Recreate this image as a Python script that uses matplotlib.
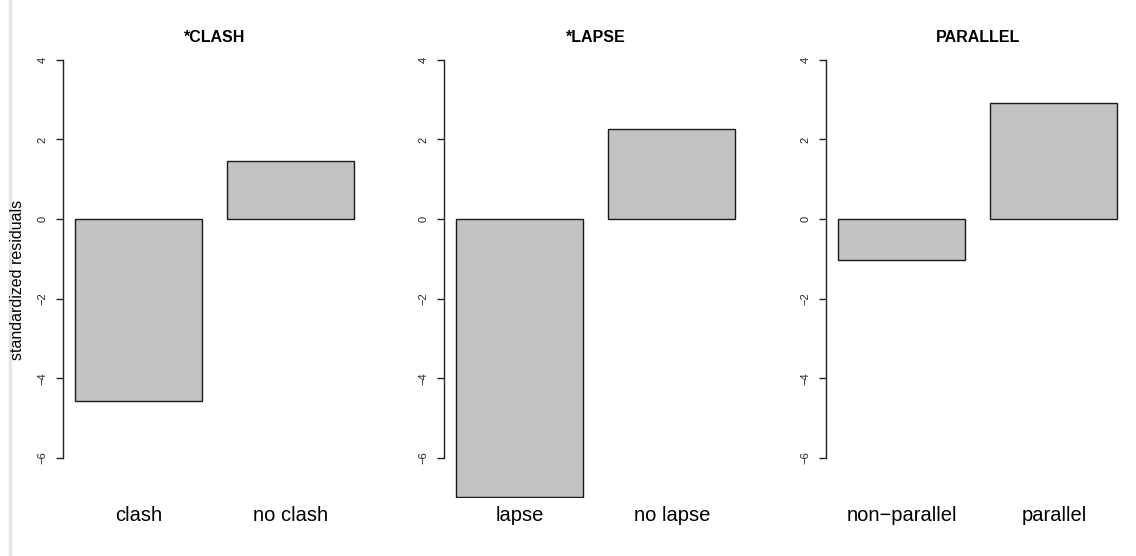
import numpy as np
import matplotlib
matplotlib.use('Agg')
import matplotlib.pyplot as plt
from matplotlib.lines import Line2D

plt.rcParams['font.family'] = ['Liberation Sans', 'DejaVu Sans']

# data
titles = ['*CLASH', '*LAPSE', 'PARALLEL']
labels = [['clash', 'no clash'], ['lapse', 'no lapse'], ['non\u2212parallel', 'parallel']]
residuals = [[-4.57, 1.46], [-6.98, 2.26], [-1.03, 2.91]]
yticks = [-6, -4, -2, 0, 2, 4]

W, H = 1136, 556
fig = plt.figure(figsize=(W / 100, H / 100), dpi=100)

# left grey border of the page
fig.add_artist(Line2D([10 / W, 10 / W], [0, 1], color='#e6e6e6', lw=2.5))

xlo, xhi = 0.1055, 2.4945
ylo, yhi = -7.0, 4.44
px_per_unit_x = 127.0
px_per_unit_y = 39.8
y0_px = 219  # pixel row of zero
lefts = [63, 444, 826]

for i in range(3):
    left = lefts[i]
    width = (xhi - xlo) * px_per_unit_x
    top_px = y0_px - yhi * px_per_unit_y
    bot_px = y0_px - ylo * px_per_unit_y
    ax = fig.add_axes([left / W, 1 - bot_px / H, width / W, (bot_px - top_px) / H])
    pos = [0.7, 1.9]
    ax.bar(pos, residuals[i], width=1.0, color='#c2c2c2', edgecolor='#1a1a1a', linewidth=1.0)
    ax.set_xlim(xlo, xhi)
    ax.set_ylim(ylo, yhi)
    for s in ['top', 'right', 'bottom']:
        ax.spines[s].set_visible(False)
    ax.spines['left'].set_bounds(-6, 4)
    ax.spines['left'].set_linewidth(1.0)
    ax.spines['left'].set_color('#222222')
    ax.set_yticks(yticks)
    ax.set_yticklabels([str(t).replace('-', '\u2212') for t in yticks], rotation=90, va='center', fontsize=8)
    ax.tick_params(axis='y', length=5, width=1.0, pad=6, colors='#222222')
    ax.set_xticks(pos)
    ax.set_xticklabels(labels[i], fontsize=14.5)
    ax.tick_params(axis='x', length=0, pad=6)
    fig.text((left + width / 2) / W, 1 - 37 / H, titles[i], ha='center', va='center',
             fontsize=11.5, fontweight='bold')

fig.text(18 / W, 1 - 280 / H, 'standardized residuals', rotation=90, ha='center', va='center', fontsize=11.5)

fig.savefig('out.png', dpi=100)
